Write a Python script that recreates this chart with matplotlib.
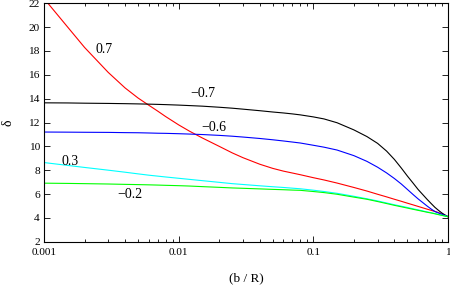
import matplotlib
matplotlib.use('Agg')
import matplotlib.pyplot as plt
from matplotlib.ticker import LogLocator, NullFormatter, FixedLocator

# x values (b / R) shared by all curves
b_R = [0.001, 0.0015, 0.002, 0.003, 0.004, 0.005, 0.006, 0.007, 0.008, 0.01,
       0.012, 0.015, 0.02, 0.025, 0.03, 0.04, 0.05, 0.06, 0.07, 0.08,
       0.1, 0.12, 0.15, 0.2, 0.25, 0.3, 0.35, 0.4, 0.45, 0.5,
       0.55, 0.6, 0.65, 0.7, 0.75, 0.8, 0.85, 0.9, 0.95, 1.0]

delta_p07 = [22.4, 20.0, 18.3, 16.2, 14.9, 14.05, 13.45, 12.95, 12.5, 11.8,
             11.28, 10.7, 10.0, 9.45, 9.05, 8.5, 8.15, 7.92, 7.76, 7.62,
             7.37, 7.18, 6.92, 6.55, 6.25, 5.98, 5.76, 5.56, 5.39, 5.23,
             5.09, 4.96, 4.84, 4.73, 4.63, 4.54, 4.44, 4.33, 4.22, 4.1]
delta_m07 = [13.65, 13.64, 13.62, 13.6, 13.58, 13.56, 13.54, 13.52, 13.5, 13.46,
             13.42, 13.37, 13.28, 13.2, 13.12, 12.99, 12.88, 12.8, 12.72, 12.64,
             12.47, 12.3, 11.98, 11.38, 10.82, 10.25, 9.6, 8.9, 8.18, 7.5,
             6.92, 6.38, 5.95, 5.55, 5.2, 4.88, 4.63, 4.41, 4.24, 4.1]
delta_m06 = [11.2, 11.19, 11.18, 11.17, 11.15, 11.14, 11.12, 11.1, 11.09, 11.06,
             11.03, 10.99, 10.92, 10.85, 10.78, 10.66, 10.55, 10.45, 10.36, 10.28,
             10.09, 9.93, 9.69, 9.22, 8.74, 8.25, 7.77, 7.3, 6.84, 6.38,
             5.96, 5.59, 5.28, 4.99, 4.74, 4.53, 4.41, 4.3, 4.2, 4.1]
delta_p03 = [8.64, 8.4, 8.23, 8.0, 7.83, 7.69, 7.58, 7.5, 7.43, 7.32,
             7.23, 7.12, 6.98, 6.87, 6.8, 6.69, 6.61, 6.55, 6.49, 6.44,
             6.32, 6.21, 6.06, 5.81, 5.6, 5.42, 5.25, 5.1, 4.98, 4.87,
             4.76, 4.67, 4.58, 4.5, 4.43, 4.36, 4.29, 4.22, 4.16, 4.1]
delta_m02 = [6.91, 6.89, 6.87, 6.84, 6.81, 6.79, 6.77, 6.75, 6.73, 6.7,
             6.67, 6.62, 6.56, 6.51, 6.48, 6.43, 6.39, 6.36, 6.33, 6.31,
             6.21, 6.12, 5.98, 5.74, 5.56, 5.37, 5.2, 5.05, 4.93, 4.82,
             4.72, 4.63, 4.55, 4.47, 4.41, 4.34, 4.27, 4.21, 4.15, 4.1]

series = [delta_p07, delta_m07, delta_m06, delta_p03, delta_m02]
names = ['0.7', '\u22120.7', '\u22120.6', '0.3', '\u22120.2']
colors = ['#ff0000', '#000000', '#0000ff', '#00ffff', '#00ff00']
label_pos = [(0.00277, 18.1), (0.0150, 14.4), (0.0183, 11.55), (0.00156, 8.7), (0.00435, 5.92)]

plt.rcParams['font.family'] = ['Liberation Serif', 'DejaVu Serif']

fig = plt.figure(figsize=(4.5, 2.87), dpi=100)
ax = fig.add_axes([44 / 450, 1 - 241.7 / 287, 404 / 450, 238.4 / 287])

for vals, col in zip(series, colors):
    ax.plot(b_R, vals, color=col, lw=0.8)

for name, (lx, ly) in zip(names, label_pos):
    ax.text(lx, ly, name, fontsize=10, ha='center', va='center')

ax.set_xscale('log')
ax.set_xlim(0.001, 1)
ax.set_ylim(2, 22)
ax.yaxis.set_major_locator(FixedLocator(range(2, 23, 2)))
ax.xaxis.set_major_locator(FixedLocator([0.001, 0.01, 0.1, 1]))
ax.xaxis.set_minor_locator(LogLocator(base=10, subs=range(2, 10)))
ax.xaxis.set_minor_formatter(NullFormatter())
ax.set_xticklabels(['0.001', '0.01', '0.1', '1'])

ax.tick_params(which='both', direction='in', top=True, right=True, labelsize=8.2, width=0.6)
ax.tick_params(which='major', length=4, pad=3)
ax.tick_params(axis='x', which='major', pad=4.5)
ax.tick_params(which='minor', length=2.5)
for sp in ax.spines.values():
    sp.set_linewidth(0.8)

ax.set_xlabel('(b / R)', fontsize=9.5, labelpad=11)
ax.set_ylabel('\u03b4', fontsize=10, labelpad=10)

fig.savefig('out.png', dpi=100)
